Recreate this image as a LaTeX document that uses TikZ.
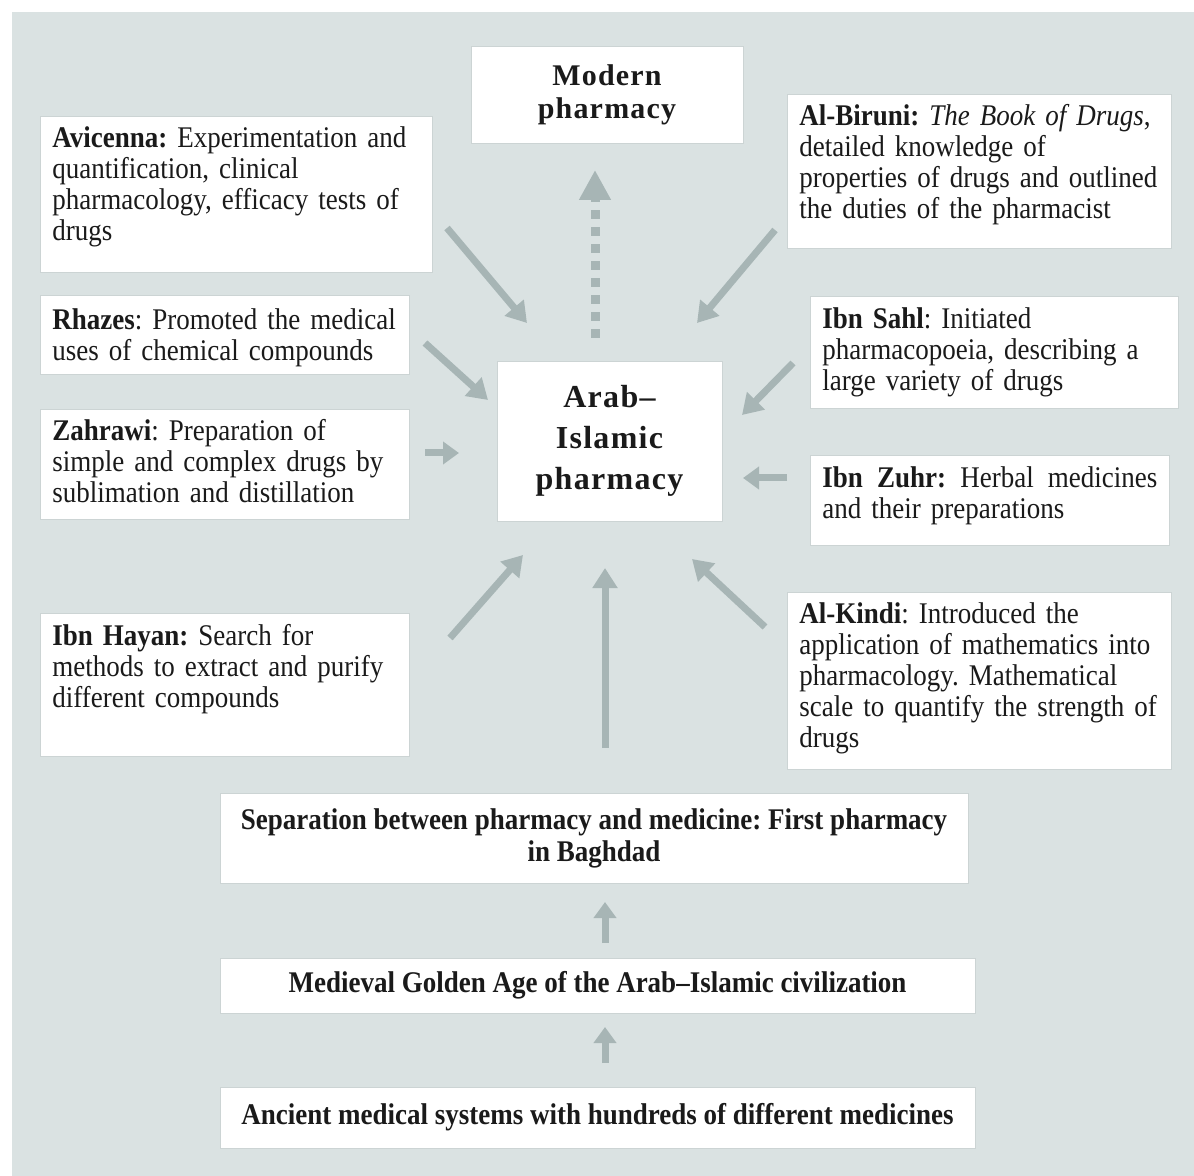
\documentclass[tikz,border=0pt]{standalone}
\usepackage{fontspec}
\setmainfont{Liberation Serif}[FakeStretch=0.9]
\newfontfamily\headfont{Liberation Serif}[LetterSpace=4]
\usetikzlibrary{arrows.meta}
\frenchspacing
\hyphenpenalty=10000
\exhyphenpenalty=10000

\definecolor{bgcol}{HTML}{DAE2E2}
\definecolor{arrcol}{HTML}{A7B5B5}
\definecolor{edgecol}{HTML}{CCD4D4}
\definecolor{txtcol}{HTML}{1A1A1A}

\tikzset{
  infobox/.style={fill=white, draw=edgecol, line width=0.4pt, anchor=north west,
    inner xsep=6pt, inner ysep=0pt, align=left, text=txtcol,
    font=\fontsize{15}{15.5}\selectfont},
  headbox/.style={fill=white, draw=edgecol, line width=0.4pt, align=center,
    inner sep=0pt, text=txtcol},
  inarrow/.style={draw=arrcol, line width=3.5pt, -{Triangle[width=12pt,length=10pt]}},
  smallarrow/.style={draw=arrcol, line width=3.5pt, -{Triangle[width=11pt,length=8pt]}},
  outarrow/.style={draw=arrcol, line width=4.5pt, dash pattern=on 4.5pt off 4pt,
    -{Triangle[width=15pt,length=15pt]}}
}

\begin{document}
\begin{tikzpicture}[x=0.5pt,y=-0.5pt]
\useasboundingbox (0,0) rectangle (1194,1176);
% Background
\fill[bgcol] (12,12) rectangle (1194,1176);

% Centre and target
\node[headbox, minimum width=112.5pt, minimum height=80pt,
  font=\headfont\bfseries\fontsize{16}{20.5}\selectfont] (centre) at (609.5,441)
  {Arab\textendash\\Islamic\\pharmacy};
\node[headbox, minimum width=136pt, minimum height=48.5pt,
  font=\headfont\bfseries\fontsize{15}{16.5}\selectfont] (modern) at (607,95)
  {Modern\\pharmacy};

% Scholars, left
\node[infobox, text width=184pt, text height=15.5pt, text depth=62.5pt] (avicenna) at (40,116)
  {\textbf{Avicenna:} Experimentation and\\quantification, clinical\\pharmacology, efficacy tests of\\drugs};
\node[infobox, text width=172.5pt, text height=17pt, text depth=22.5pt] (rhazes) at (40,295)
  {\textbf{Rhazes}: Promoted the medical\\uses of chemical compounds};
\node[infobox, text width=172.5pt, text height=15.5pt, text depth=39.5pt] (zahrawi) at (40,409)
  {\textbf{Zahrawi}: Preparation of\\simple and complex drugs by\\sublimation and distillation};
\node[infobox, text width=172.5pt, text height=16pt, text depth=55.5pt] (hayan) at (40,613)
  {\textbf{Ibn Hayan:} Search for\\methods to extract and purify\\different compounds};

% Scholars, right
\node[infobox, text width=180pt, text height=15.5pt, text depth=61.5pt] (biruni) at (787,94)
  {\textbf{Al-Biruni:} \textit{The Book of Drugs},\\detailed knowledge of\\properties of drugs and outlined\\the duties of the pharmacist};
\node[infobox, text width=172pt, text height=16pt, text depth=40pt] (sahl) at (810,296)
  {\textbf{Ibn Sahl}: Initiated\\pharmacopoeia, describing a\\large variety of drugs};
\node[infobox, text width=167.5pt, text height=16pt, text depth=29pt] (zuhr) at (810,455)
  {\makebox[167.5pt][l]{\textbf{Ibn\hfill Zuhr:}\hfill Herbal\hfill medicines}\\and their preparations};
\node[infobox, text width=180pt, text height=15.5pt, text depth=73pt] (kindi) at (787,592)
  {\textbf{Al-Kindi}: Introduced the\\application of mathematics into\\pharmacology. Mathematical\\scale to quantify the strength of\\drugs};

% Roots
\node[headbox, minimum width=374pt, minimum height=45pt,
  font=\bfseries\fontsize{15}{16}\selectfont] (separation) at (594,838)
  {Separation between pharmacy and medicine: First pharmacy\\in Baghdad};
\node[headbox, minimum width=377.5pt, minimum height=27.5pt,
  font=\bfseries\fontsize{15}{16}\selectfont] (golden) at (597.5,985.5)
  {Medieval Golden Age of the Arab--Islamic civilization};
\node[headbox, minimum width=377.5pt, minimum height=30.5pt,
  font=\bfseries\fontsize{15}{16}\selectfont] (ancient) at (597.5,1117.5)
  {Ancient medical systems with hundreds of different medicines};

% Arrow ends
\coordinate (out-s) at (595,338);  \coordinate (out-e) at (595,170);
\coordinate (av-s) at (447,228);   \coordinate (av-e) at (527,323);
\coordinate (bi-s) at (775,230);   \coordinate (bi-e) at (697,323);
\coordinate (rh-s) at (425,343);   \coordinate (rh-e) at (488,400);
\coordinate (sa-s) at (793,363);   \coordinate (sa-e) at (742,415);
\coordinate (za-s) at (425,453);   \coordinate (za-e) at (459,453);
\coordinate (zu-s) at (787,478);   \coordinate (zu-e) at (743,478);
\coordinate (ha-s) at (450,638);   \coordinate (ha-e) at (523,555);
\coordinate (se-s) at (605,748);   \coordinate (se-e) at (605,568);
\coordinate (ki-s) at (765,627);   \coordinate (ki-e) at (692,559);
\coordinate (go-s) at (605,943);   \coordinate (go-e) at (605,902);
\coordinate (an-s) at (605,1063);  \coordinate (an-e) at (605,1027);

% Arrows
\draw[outarrow] (out-s) -- (out-e);
\foreach \a in {av,bi,rh,sa,ha,se,ki}{
\draw[inarrow] (\a-s) -- (\a-e);
}
\foreach \a in {za,zu,go,an}{
\draw[smallarrow] (\a-s) -- (\a-e);
}
\end{tikzpicture}
\end{document}
